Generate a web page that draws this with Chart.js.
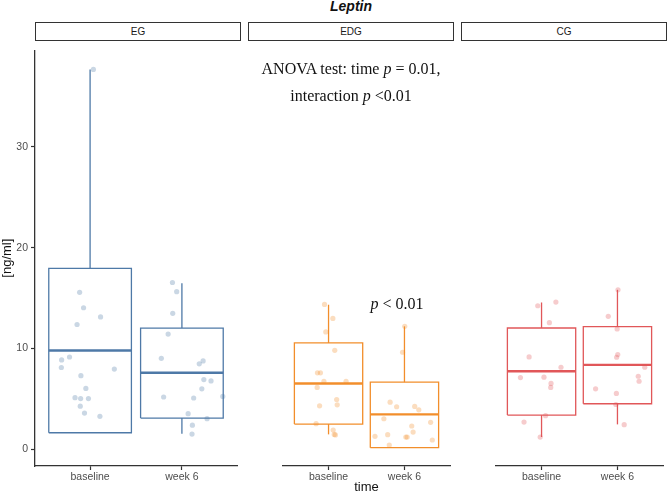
<!DOCTYPE html>
<html>
<head>
<meta charset="utf-8">
<script src="https://cdn.jsdelivr.net/npm/chart.js@4.4.1/dist/chart.umd.min.js"></script>
<style>
  body { margin: 0; background: #fff; }
  #wrap { position: relative; width: 669px; height: 495px; overflow: hidden; font-family: "Liberation Sans", Arial, sans-serif; }
  canvas { position: absolute; top: 41px; }
  .strip { position: absolute; top: 22px; height: 19px; width: 206px; box-sizing: border-box;
           border: 1.2px solid #333; font-size: 10px; color: #1a1a1a; text-align: center; line-height: 17px; }
  .ann { position: absolute; transform: translateX(-50%); white-space: nowrap;
         font-family: "Liberation Serif", "Times New Roman", serif; font-size: 16px; line-height: 16px; color: #111; }
  #title { position: absolute; left: 35px; width: 632px; top: -1px; text-align: center;
           font-weight: bold; font-style: italic; font-size: 14px; line-height: 15px; color: #111; }
</style>
</head>
<body>
<div id="wrap">
  <div id="title">Leptin</div>
  <div class="strip" style="left:35px">EG</div>
  <div class="strip" style="left:248px">EDG</div>
  <div class="strip" style="left:461px">CG</div>
  <canvas id="c0" width="241" height="454" style="left:0px"></canvas>
  <canvas id="c1" width="206" height="454" style="left:248px"></canvas>
  <canvas id="c2" width="206" height="454" style="left:461px"></canvas>
  <div class="ann" style="left:351px; top:61px">ANOVA test: time <i>p</i> = 0.01,</div>
  <div class="ann" style="left:351px; top:88px">interaction <i>p</i> &lt;0.01</div>
  <div class="ann" style="left:397px; top:296px"><i>p</i> &lt; 0.01</div>
</div>
<script>
// categories
const groups = ["EG", "EDG", "CG"];
const times = ["baseline", "week 6"];
const yTicks = [0, 10, 20, 30];

// box statistics per group: [baseline, week 6]
const egMin = [1.63, 1.53], egQ1 = [1.63, 3.09], egMed = [9.8, 7.59], egQ3 = [17.95, 12.02], egMax = [37.7, 16.48];
const edgMin = [1.43, 0.13], edgQ1 = [2.44, 0.13], edgMed = [6.42, 3.39], edgQ3 = [10.39, 6.55], edgMax = [14.14, 12.02];
const cgMin = [1.17, 2.41], cgQ1 = [3.32, 4.43], cgMed = [7.62, 8.24], cgQ3 = [11.86, 11.99], cgMax = [14.36, 15.6];

// individual (jittered) points: values and horizontal jitter
const egBaseVals = [37.7, 15.57, 14.04, 12.38, 13.13, 8.86, 9.15, 8.11, 7.95, 7.3, 6.03, 5.11, 5.02, 5.02, 4.27, 3.58, 3.26];
const egBaseJit = [0.036, -0.114, -0.071, -0.142, 0.114, -0.31, -0.224, -0.313, 0.264, -0.1, -0.046, -0.164, -0.103, -0.018, -0.107, -0.061, 0.107];
const egWeekVals = [16.55, 15.64, 13.49, 11.43, 9.02, 8.76, 8.47, 6.91, 6.78, 5.99, 5.18, 5.08, 5.24, 3.52, 3.03, 2.38, 1.5];
const egWeekJit = [-0.103, -0.057, -0.1, -0.15, -0.224, 0.231, 0.189, 0.239, 0.317, 0.217, -0.199, 0.128, 0.445, 0.068, 0.274, 0.114, 0.11];
const edgBaseVals = [14.17, 12.8, 11.47, 9.67, 7.46, 7.46, 6.64, 6.64, 6.03, 4.85, 4.33, 4.23, 2.48, 1.86, 1.43, 1.38];
const edgBaseJit = [-0.053, 0.057, -0.036, 0.082, -0.146, -0.107, -0.061, 0.231, -0.15, 0.107, 0.114, -0.118, -0.164, 0.061, 0.075, 0.09];
const edgWeekVals = [12.02, 9.48, 4.59, 4.14, 4.17, 3.84, 2.96, 2.25, 2.61, 1.66, 1.24, 1.4, 1.17, 1.17, 0.88, 0.39];
const edgWeekJit = [0.004, -0.025, -0.189, -0.103, 0.135, 0.189, -0.271, 0.096, 0.345, 0.114, -0.388, -0.221, 0.018, 0.036, 0.367, -0.2];
const cgBaseVals = [14.04, 14.4, 12.38, 9.02, 8.01, 7.0, 7.04, 6.42, 6.03, 3.26, 2.64, 1.17];
const cgBaseJit = [-0.05, 0.189, 0.103, -0.164, 0.256, -0.278, 0.032, 0.125, 0.121, 0.053, -0.231, -0.018];
const cgWeekVals = [15.6, 13.0, 11.76, 9.25, 8.99, 8.01, 7.13, 6.64, 5.9, 5.44, 4.36, 2.38];
const cgWeekJit = [0.007, -0.121, -0.004, 0.004, -0.011, 0.36, 0.274, 0.285, -0.288, -0.014, -0.021, 0.089];

const panels = [
  { stats: [egMin, egQ1, egMed, egQ3, egMax], pts: [[egBaseVals, egBaseJit], [egWeekVals, egWeekJit]], col: "78,121,167" },
  { stats: [edgMin, edgQ1, edgMed, edgQ3, edgMax], pts: [[edgBaseVals, edgBaseJit], [edgWeekVals, edgWeekJit]], col: "242,142,43" },
  { stats: [cgMin, cgQ1, cgMed, cgQ3, cgMax], pts: [[cgBaseVals, cgBaseJit], [cgWeekVals, cgWeekJit]], col: "225,87,89" },
];

const HW = 0.45; // half box width in x units
const sans = "'Liberation Sans', Arial, sans-serif";

function seg(data, color, width) {
  return { type: "line", data, borderColor: color, borderWidth: width, pointRadius: 0,
           fill: false, showLine: true, order: 1, borderJoinStyle: "miter", borderCapStyle: "butt" };
}

function buildDatasets(p) {
  const [mn, q1, md, q3, mx] = p.stats;
  const line = "rgb(" + p.col + ")";
  const ds = [];
  times.forEach((t, i) => {
    const xc = i + 1;
    ds.push(seg([{x: xc - HW, y: q1[i]}, {x: xc + HW, y: q1[i]}, {x: xc + HW, y: q3[i]},
                 {x: xc - HW, y: q3[i]}, {x: xc - HW, y: q1[i]}], line, 1.3));
    if (mx[i] > q3[i]) ds.push(seg([{x: xc, y: q3[i]}, {x: xc, y: mx[i]}], line, 1.3));
    if (mn[i] < q1[i]) ds.push(seg([{x: xc, y: mn[i]}, {x: xc, y: q1[i]}], line, 1.3));
    ds.push(seg([{x: xc - HW, y: md[i]}, {x: xc + HW, y: md[i]}], line, 2.4));
    const [vals, jit] = p.pts[i];
    ds.push({ type: "scatter", data: vals.map((v, k) => ({x: xc + jit[k], y: v})),
              backgroundColor: "rgba(" + p.col + ",0.3)", borderWidth: 0, pointRadius: 2.6, order: 0 });
  });
  return ds;
}

panels.forEach((p, gi) => {
  const first = gi === 0;
  new Chart(document.getElementById("c" + gi), {
    type: "scatter",
    data: { datasets: buildDatasets(p) },
    options: {
      responsive: false,
      animation: false,
      events: [],
      layout: { padding: 0 },
      plugins: { legend: { display: false }, tooltip: { enabled: false } },
      scales: {
        x: {
          type: "linear", min: 0.4, max: 2.6, offset: false,
          afterBuildTicks: ax => { ax.ticks = times.map((t, i) => ({ value: i + 1 })); },
          afterFit: ax => { ax.height = 29; },
          ticks: { callback: v => times[Math.round(v) - 1], autoSkip: false, maxRotation: 0,
                   color: "#4d4d4d", font: { family: sans, size: 10.5 }, padding: 1 },
          grid: { drawOnChartArea: false, offset: false, tickLength: 4, color: "#333", tickWidth: 1.2 },
          border: { color: "#333", width: 1.3 },
          title: { display: gi === 1, text: "time", color: "#111", font: { family: sans, size: 13 }, padding: 0 }
        },
        y: {
          type: "linear", min: -1.67, max: 39.6, display: first,
          afterBuildTicks: ax => { ax.ticks = yTicks.map(v => ({ value: v })); },
          afterFit: ax => { ax.width = 35; },
          ticks: { color: "#4d4d4d", font: { family: sans, size: 10.5 }, padding: 3 },
          grid: { drawOnChartArea: false, tickLength: 4, color: "#333", tickWidth: 1.2 },
          border: { color: "#333", width: 1.3 },
          title: { display: true, text: "[ng/ml]", color: "#111", font: { family: sans, size: 13 }, padding: 0 }
        }
      }
    }
  });
});
</script>
</body>
</html>
